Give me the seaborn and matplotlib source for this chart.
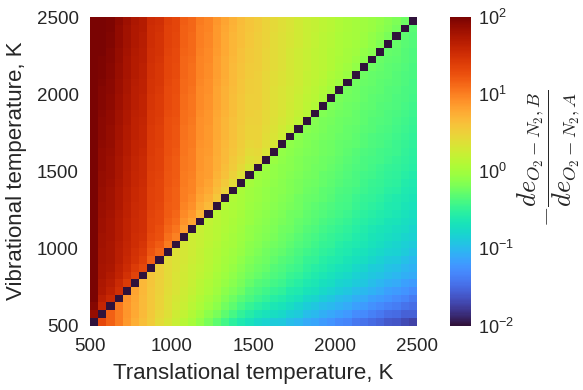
import numpy as np
import pandas as pd
import matplotlib
matplotlib.use("Agg")
import matplotlib.pyplot as plt
from matplotlib.colors import LogNorm
import seaborn as sns

# Temperature grid edges (K) and the cell starts along each axis
t_edges = [500, 1000, 1500, 2000, 2500]
t_cells = list(range(500, 2500, 50))

# log10 of -de_B/de_A, one list per translational temperature (columns),
# each running over vibrational temperature from 500 K upward; None = Tv == Tt
log_ratio_by_tt = [
    [None, 1.87, 1.94, 1.99, 2.02, 2.04, 2.05, 2.06, 2.07, 2.07, 2.08, 2.09, 2.10, 2.10, 2.11, 2.12, 2.13, 2.13, 2.14, 2.15, 2.16, 2.16, 2.17, 2.18, 2.19, 2.19, 2.20, 2.21, 2.22, 2.22, 2.23, 2.24, 2.25, 2.25, 2.26, 2.27, 2.28, 2.28, 2.29, 2.30],
    [1.32, None, 1.60, 1.67, 1.72, 1.74, 1.77, 1.78, 1.79, 1.79, 1.80, 1.81, 1.82, 1.82, 1.83, 1.84, 1.85, 1.85, 1.86, 1.87, 1.88, 1.88, 1.89, 1.90, 1.91, 1.91, 1.92, 1.93, 1.94, 1.94, 1.95, 1.96, 1.97, 1.97, 1.98, 1.99, 2.00, 2.00, 2.01, 2.02],
    [1.16, 1.16, None, 1.57, 1.64, 1.68, 1.71, 1.74, 1.75, 1.75, 1.76, 1.77, 1.78, 1.78, 1.79, 1.80, 1.81, 1.81, 1.82, 1.83, 1.84, 1.84, 1.85, 1.86, 1.87, 1.87, 1.88, 1.89, 1.90, 1.90, 1.91, 1.92, 1.93, 1.93, 1.94, 1.95, 1.96, 1.96, 1.97, 1.98],
    [1.02, 1.03, 1.04, None, 1.50, 1.56, 1.61, 1.64, 1.67, 1.67, 1.68, 1.69, 1.70, 1.70, 1.71, 1.72, 1.73, 1.73, 1.74, 1.75, 1.76, 1.76, 1.77, 1.78, 1.79, 1.79, 1.80, 1.81, 1.82, 1.82, 1.83, 1.84, 1.85, 1.85, 1.86, 1.87, 1.88, 1.88, 1.89, 1.90],
    [0.86, 0.88, 0.89, 0.90, None, 1.42, 1.49, 1.54, 1.57, 1.59, 1.60, 1.61, 1.62, 1.62, 1.63, 1.64, 1.65, 1.65, 1.66, 1.67, 1.68, 1.68, 1.69, 1.70, 1.71, 1.71, 1.72, 1.73, 1.74, 1.74, 1.75, 1.76, 1.77, 1.77, 1.78, 1.79, 1.80, 1.80, 1.81, 1.82],
    [0.74, 0.77, 0.78, 0.79, 0.80, None, 1.35, 1.42, 1.47, 1.49, 1.52, 1.53, 1.54, 1.54, 1.55, 1.56, 1.57, 1.57, 1.58, 1.59, 1.60, 1.60, 1.61, 1.62, 1.63, 1.63, 1.64, 1.65, 1.66, 1.66, 1.67, 1.68, 1.69, 1.69, 1.70, 1.71, 1.72, 1.72, 1.73, 1.74],
    [0.64, 0.66, 0.67, 0.67, 0.68, 0.68, None, 1.32, 1.39, 1.43, 1.46, 1.49, 1.50, 1.50, 1.51, 1.52, 1.53, 1.53, 1.54, 1.55, 1.56, 1.56, 1.57, 1.58, 1.59, 1.59, 1.60, 1.61, 1.62, 1.62, 1.63, 1.64, 1.65, 1.65, 1.66, 1.67, 1.68, 1.68, 1.69, 1.70],
    [0.54, 0.56, 0.57, 0.57, 0.57, 0.58, 0.58, None, 1.17, 1.23, 1.28, 1.31, 1.34, 1.34, 1.35, 1.36, 1.37, 1.37, 1.38, 1.39, 1.40, 1.40, 1.41, 1.42, 1.43, 1.43, 1.44, 1.45, 1.46, 1.46, 1.47, 1.48, 1.49, 1.49, 1.50, 1.51, 1.52, 1.52, 1.53, 1.54],
    [0.42, 0.45, 0.47, 0.48, 0.49, 0.49, 0.50, 0.50, None, 1.13, 1.20, 1.25, 1.28, 1.30, 1.31, 1.32, 1.33, 1.33, 1.34, 1.35, 1.36, 1.36, 1.37, 1.38, 1.39, 1.39, 1.40, 1.41, 1.42, 1.42, 1.43, 1.44, 1.45, 1.45, 1.46, 1.47, 1.48, 1.48, 1.49, 1.50],
    [0.32, 0.36, 0.38, 0.39, 0.40, 0.41, 0.41, 0.42, 0.42, None, 1.02, 1.09, 1.14, 1.16, 1.19, 1.20, 1.21, 1.21, 1.22, 1.23, 1.24, 1.24, 1.25, 1.26, 1.27, 1.27, 1.28, 1.29, 1.30, 1.30, 1.31, 1.32, 1.33, 1.33, 1.34, 1.35, 1.36, 1.36, 1.37, 1.38],
    [0.22, 0.26, 0.29, 0.31, 0.33, 0.34, 0.34, 0.35, 0.35, 0.36, None, 0.99, 1.06, 1.10, 1.13, 1.16, 1.17, 1.17, 1.18, 1.19, 1.20, 1.20, 1.21, 1.22, 1.23, 1.23, 1.24, 1.25, 1.26, 1.26, 1.27, 1.28, 1.29, 1.29, 1.30, 1.31, 1.32, 1.32, 1.33, 1.34],
    [0.12, 0.18, 0.22, 0.24, 0.26, 0.27, 0.28, 0.29, 0.30, 0.30, 0.31, None, 0.84, 0.90, 0.95, 0.98, 1.01, 1.01, 1.02, 1.03, 1.04, 1.04, 1.05, 1.06, 1.07, 1.07, 1.08, 1.09, 1.10, 1.10, 1.11, 1.12, 1.13, 1.13, 1.14, 1.15, 1.16, 1.16, 1.17, 1.18],
    [0.02, 0.08, 0.13, 0.17, 0.19, 0.21, 0.22, 0.23, 0.24, 0.25, 0.25, 0.26, None, 0.80, 0.87, 0.92, 0.95, 0.97, 0.98, 0.99, 1.00, 1.00, 1.01, 1.02, 1.03, 1.03, 1.04, 1.05, 1.06, 1.06, 1.07, 1.08, 1.09, 1.09, 1.10, 1.11, 1.12, 1.12, 1.13, 1.14],
    [-0.08, -0.01, 0.06, 0.09, 0.12, 0.14, 0.16, 0.18, 0.19, 0.20, 0.21, 0.21, 0.22, None, 0.69, 0.76, 0.81, 0.83, 0.86, 0.87, 0.88, 0.88, 0.89, 0.90, 0.91, 0.91, 0.92, 0.93, 0.94, 0.94, 0.95, 0.96, 0.97, 0.97, 0.98, 0.99, 1.00, 1.00, 1.01, 1.02],
    [-0.20, -0.11, -0.04, 0.01, 0.05, 0.07, 0.10, 0.12, 0.13, 0.14, 0.15, 0.16, 0.17, 0.18, None, 0.66, 0.73, 0.77, 0.80, 0.83, 0.84, 0.84, 0.85, 0.86, 0.87, 0.87, 0.88, 0.89, 0.90, 0.90, 0.91, 0.92, 0.93, 0.93, 0.94, 0.95, 0.96, 0.96, 0.97, 0.98],
    [-0.30, -0.20, -0.12, -0.07, -0.02, 0.01, 0.03, 0.06, 0.07, 0.09, 0.10, 0.11, 0.12, 0.13, 0.14, None, 0.57, 0.63, 0.68, 0.71, 0.74, 0.74, 0.75, 0.76, 0.77, 0.77, 0.78, 0.79, 0.80, 0.80, 0.81, 0.82, 0.83, 0.83, 0.84, 0.85, 0.86, 0.86, 0.87, 0.88],
    [-0.42, -0.31, -0.22, -0.16, -0.11, -0.07, -0.04, -0.01, 0.01, 0.03, 0.04, 0.06, 0.07, 0.08, 0.09, 0.10, None, 0.49, 0.56, 0.61, 0.64, 0.66, 0.67, 0.68, 0.69, 0.69, 0.70, 0.71, 0.72, 0.72, 0.73, 0.74, 0.75, 0.75, 0.76, 0.77, 0.78, 0.78, 0.79, 0.80],
    [-0.52, -0.40, -0.31, -0.24, -0.18, -0.14, -0.10, -0.07, -0.04, -0.02, 0.00, 0.01, 0.03, 0.04, 0.05, 0.06, 0.07, None, 0.42, 0.49, 0.54, 0.56, 0.59, 0.60, 0.61, 0.61, 0.62, 0.63, 0.64, 0.64, 0.65, 0.66, 0.67, 0.67, 0.68, 0.69, 0.70, 0.70, 0.71, 0.72],
    [-0.62, -0.50, -0.40, -0.32, -0.25, -0.20, -0.16, -0.13, -0.10, -0.07, -0.05, -0.04, -0.02, -0.01, 0.01, 0.02, 0.02, 0.04, None, 0.36, 0.43, 0.47, 0.50, 0.53, 0.54, 0.54, 0.55, 0.56, 0.57, 0.57, 0.58, 0.59, 0.60, 0.60, 0.61, 0.62, 0.63, 0.63, 0.64, 0.65],
    [-0.70, -0.57, -0.48, -0.39, -0.33, -0.27, -0.23, -0.19, -0.16, -0.13, -0.11, -0.09, -0.08, -0.06, -0.05, -0.04, -0.03, -0.02, 0.00, None, 0.31, 0.37, 0.42, 0.45, 0.48, 0.48, 0.49, 0.50, 0.51, 0.51, 0.52, 0.53, 0.54, 0.54, 0.55, 0.56, 0.57, 0.57, 0.58, 0.59],
    [-0.78, -0.65, -0.54, -0.45, -0.39, -0.33, -0.28, -0.24, -0.21, -0.18, -0.15, -0.13, -0.11, -0.10, -0.08, -0.07, -0.06, -0.05, -0.04, -0.02, None, 0.40, 0.43, 0.46, 0.47, 0.48, 0.49, 0.49, 0.50, 0.50, 0.50, 0.51, 0.51, 0.52, 0.52, 0.52, 0.53, 0.53, 0.54, 0.54],
    [-0.82, -0.69, -0.59, -0.49, -0.43, -0.37, -0.32, -0.28, -0.25, -0.22, -0.19, -0.16, -0.15, -0.13, -0.11, -0.10, -0.09, -0.08, -0.07, -0.06, -0.04, None, 0.34, 0.38, 0.40, 0.41, 0.43, 0.43, 0.44, 0.44, 0.44, 0.45, 0.45, 0.46, 0.46, 0.46, 0.47, 0.47, 0.48, 0.48],
    [-0.88, -0.75, -0.65, -0.55, -0.48, -0.42, -0.37, -0.33, -0.29, -0.26, -0.23, -0.20, -0.18, -0.16, -0.15, -0.13, -0.12, -0.11, -0.10, -0.09, -0.08, -0.06, None, 0.30, 0.33, 0.35, 0.37, 0.38, 0.39, 0.39, 0.39, 0.40, 0.40, 0.41, 0.41, 0.41, 0.42, 0.42, 0.43, 0.43],
    [-0.90, -0.78, -0.68, -0.58, -0.51, -0.45, -0.40, -0.36, -0.33, -0.29, -0.26, -0.24, -0.22, -0.19, -0.18, -0.16, -0.15, -0.14, -0.13, -0.11, -0.11, -0.10, -0.08, None, 0.25, 0.28, 0.31, 0.32, 0.34, 0.34, 0.34, 0.35, 0.35, 0.36, 0.36, 0.36, 0.37, 0.37, 0.38, 0.38],
    [-0.98, -0.85, -0.75, -0.65, -0.58, -0.51, -0.46, -0.41, -0.37, -0.34, -0.31, -0.28, -0.25, -0.23, -0.22, -0.20, -0.18, -0.17, -0.16, -0.15, -0.14, -0.13, -0.12, -0.10, None, 0.20, 0.24, 0.26, 0.28, 0.29, 0.29, 0.30, 0.30, 0.31, 0.31, 0.31, 0.32, 0.32, 0.33, 0.33],
    [-1.02, -0.89, -0.80, -0.70, -0.62, -0.56, -0.50, -0.45, -0.42, -0.38, -0.35, -0.32, -0.29, -0.27, -0.25, -0.23, -0.22, -0.20, -0.19, -0.18, -0.17, -0.16, -0.15, -0.14, -0.12, None, 0.16, 0.19, 0.22, 0.23, 0.24, 0.25, 0.25, 0.26, 0.26, 0.26, 0.27, 0.27, 0.28, 0.28],
    [-1.10, -0.97, -0.87, -0.77, -0.68, -0.62, -0.56, -0.51, -0.47, -0.43, -0.39, -0.37, -0.34, -0.31, -0.29, -0.27, -0.26, -0.24, -0.22, -0.21, -0.20, -0.19, -0.18, -0.17, -0.16, -0.14, None, 0.11, 0.15, 0.17, 0.18, 0.20, 0.20, 0.21, 0.21, 0.21, 0.22, 0.22, 0.23, 0.23],
    [-1.14, -1.01, -0.91, -0.81, -0.71, -0.65, -0.60, -0.55, -0.50, -0.46, -0.43, -0.40, -0.37, -0.34, -0.32, -0.30, -0.28, -0.26, -0.25, -0.23, -0.22, -0.21, -0.20, -0.19, -0.18, -0.16, -0.15, None, 0.08, 0.11, 0.13, 0.15, 0.16, 0.17, 0.17, 0.17, 0.18, 0.18, 0.19, 0.19],
    [-1.20, -1.07, -0.97, -0.87, -0.77, -0.71, -0.65, -0.59, -0.55, -0.51, -0.47, -0.44, -0.41, -0.38, -0.35, -0.33, -0.31, -0.30, -0.28, -0.27, -0.25, -0.24, -0.23, -0.22, -0.21, -0.20, -0.19, -0.17, None, 0.04, 0.07, 0.10, 0.11, 0.13, 0.13, 0.13, 0.14, 0.14, 0.15, 0.15],
    [-1.24, -1.11, -1.01, -0.91, -0.82, -0.75, -0.69, -0.63, -0.58, -0.54, -0.50, -0.47, -0.44, -0.41, -0.38, -0.36, -0.34, -0.32, -0.31, -0.29, -0.28, -0.26, -0.25, -0.24, -0.23, -0.22, -0.21, -0.20, -0.18, None, 0.00, 0.04, 0.06, 0.08, 0.09, 0.09, 0.10, 0.10, 0.11, 0.11],
    [-1.30, -1.17, -1.06, -0.97, -0.87, -0.80, -0.74, -0.68, -0.62, -0.59, -0.55, -0.51, -0.48, -0.45, -0.42, -0.40, -0.38, -0.36, -0.34, -0.32, -0.31, -0.29, -0.28, -0.27, -0.26, -0.25, -0.24, -0.23, -0.21, -0.20, None, -0.03, 0.00, 0.03, 0.04, 0.05, 0.06, 0.06, 0.07, 0.07],
    [-1.34, -1.21, -1.10, -1.01, -0.91, -0.83, -0.78, -0.71, -0.66, -0.62, -0.58, -0.54, -0.51, -0.48, -0.45, -0.42, -0.40, -0.38, -0.36, -0.35, -0.33, -0.32, -0.30, -0.29, -0.28, -0.27, -0.26, -0.25, -0.24, -0.22, -0.21, None, -0.06, -0.02, 0.00, 0.01, 0.03, 0.03, 0.04, 0.04],
    [-1.42, -1.29, -1.17, -1.07, -0.98, -0.89, -0.83, -0.77, -0.71, -0.66, -0.62, -0.59, -0.55, -0.52, -0.49, -0.46, -0.44, -0.41, -0.39, -0.38, -0.36, -0.35, -0.33, -0.31, -0.30, -0.29, -0.28, -0.27, -0.26, -0.25, -0.24, -0.22, None, -0.08, -0.05, -0.03, -0.01, 0.00, 0.01, 0.01],
    [-1.44, -1.31, -1.20, -1.10, -1.01, -0.92, -0.86, -0.80, -0.74, -0.70, -0.65, -0.62, -0.59, -0.55, -0.53, -0.50, -0.47, -0.45, -0.43, -0.41, -0.39, -0.38, -0.36, -0.34, -0.33, -0.32, -0.31, -0.30, -0.29, -0.28, -0.27, -0.26, -0.24, None, -0.11, -0.08, -0.05, -0.04, -0.02, -0.02],
    [-1.50, -1.37, -1.26, -1.16, -1.06, -0.97, -0.91, -0.86, -0.79, -0.74, -0.69, -0.66, -0.63, -0.59, -0.56, -0.53, -0.50, -0.48, -0.46, -0.43, -0.41, -0.40, -0.39, -0.37, -0.36, -0.34, -0.33, -0.32, -0.31, -0.30, -0.29, -0.28, -0.27, -0.25, None, -0.14, -0.10, -0.08, -0.06, -0.05],
    [-1.54, -1.41, -1.30, -1.20, -1.10, -1.02, -0.95, -0.89, -0.83, -0.78, -0.73, -0.69, -0.66, -0.62, -0.59, -0.56, -0.53, -0.50, -0.48, -0.46, -0.44, -0.42, -0.41, -0.39, -0.38, -0.36, -0.35, -0.34, -0.33, -0.32, -0.31, -0.30, -0.29, -0.28, -0.26, None, -0.16, -0.13, -0.10, -0.09],
    [-1.60, -1.47, -1.35, -1.25, -1.16, -1.07, -0.99, -0.94, -0.88, -0.82, -0.77, -0.73, -0.70, -0.66, -0.62, -0.60, -0.57, -0.54, -0.51, -0.49, -0.47, -0.45, -0.43, -0.42, -0.40, -0.39, -0.37, -0.36, -0.35, -0.34, -0.33, -0.32, -0.31, -0.30, -0.29, -0.27, None, -0.19, -0.15, -0.13],
    [-1.62, -1.49, -1.38, -1.29, -1.19, -1.10, -1.02, -0.96, -0.90, -0.84, -0.80, -0.76, -0.72, -0.68, -0.65, -0.62, -0.60, -0.56, -0.53, -0.51, -0.49, -0.47, -0.45, -0.44, -0.43, -0.41, -0.40, -0.38, -0.37, -0.36, -0.35, -0.34, -0.33, -0.32, -0.31, -0.29, -0.28, None, -0.21, -0.18],
    [-1.68, -1.55, -1.44, -1.34, -1.25, -1.16, -1.07, -1.02, -0.96, -0.89, -0.85, -0.80, -0.76, -0.73, -0.69, -0.66, -0.63, -0.61, -0.58, -0.55, -0.53, -0.51, -0.49, -0.48, -0.46, -0.44, -0.43, -0.41, -0.40, -0.39, -0.38, -0.37, -0.36, -0.35, -0.34, -0.33, -0.32, -0.30, None, -0.24],
    [-1.72, -1.56, -1.48, -1.40, -1.29, -1.20, -1.10, -1.06, -1.01, -0.94, -0.88, -0.84, -0.80, -0.76, -0.73, -0.70, -0.67, -0.64, -0.61, -0.59, -0.56, -0.54, -0.52, -0.51, -0.49, -0.47, -0.46, -0.45, -0.43, -0.42, -0.40, -0.40, -0.39, -0.38, -0.37, -0.36, -0.35, -0.33, -0.32, None],
]

for col in log_ratio_by_tt:
    assert len(col) == len(t_cells)

exponents = np.array([[np.nan if v is None else v for v in col]
                      for col in log_ratio_by_tt], dtype=float).T
ratio = pd.DataFrame(10.0 ** exponents, index=t_cells, columns=t_cells)

plt.rcParams["font.family"] = ["Liberation Sans", "DejaVu Sans"]
plt.rcParams["mathtext.fontset"] = "custom"
plt.rcParams["mathtext.rm"] = "Liberation Sans"
plt.rcParams["mathtext.it"] = "Liberation Sans:italic"

cmap = plt.get_cmap("turbo").copy()
cmap.set_bad(cmap(0.0))

W, H = 583, 390
fig = plt.figure(figsize=(W / 100, H / 100), dpi=100)
ax = fig.add_axes([90 / W, 1 - 325.5 / H, 327 / W, 308.5 / H])
cax = fig.add_axes([450 / W, 1 - 325.5 / H, 21 / W, 308.5 / H])

sns.heatmap(ratio, ax=ax, cbar_ax=cax, cmap=cmap,
            norm=LogNorm(vmin=1e-2, vmax=1e2),
            xticklabels=False, yticklabels=False)

n = len(t_cells)
ax.set_xlim(0, n)
ax.set_ylim(0, n)
pos = [(t - t_edges[0]) / 50 for t in t_edges]
ax.set_xticks(pos)
ax.set_xticklabels([str(t) for t in t_edges])
ax.set_yticks(pos)
ax.set_yticklabels([str(t) for t in t_edges])
ax.tick_params(axis="both", length=0, labelsize=13.5, colors="#262626")
ax.tick_params(axis="x", pad=9)
ax.tick_params(axis="y", pad=8)
ax.set_xlabel("")
ax.set_ylabel("")

cax.tick_params(which="both", length=0, labelsize=13, colors="#262626", pad=5)
cax.minorticks_off()

fig.text(253.5 / W, 1 - 373 / H, "Translational temperature, K",
         ha="center", va="center", fontsize=16, color="#262626")
fig.text(17 / W, 1 - 171 / H, "Vibrational temperature, K",
         ha="center", va="center", rotation=90, fontsize=16, color="#262626")
fig.text(549 / W, 1 - 158 / H,
         r"$-\dfrac{de_{O_2-N_2,B}}{de_{O_2-N_2,A}}$",
         ha="center", va="center", rotation=90, fontsize=19,
         math_fontfamily="cm", color="#262626")

fig.savefig("out.png", dpi=100)
